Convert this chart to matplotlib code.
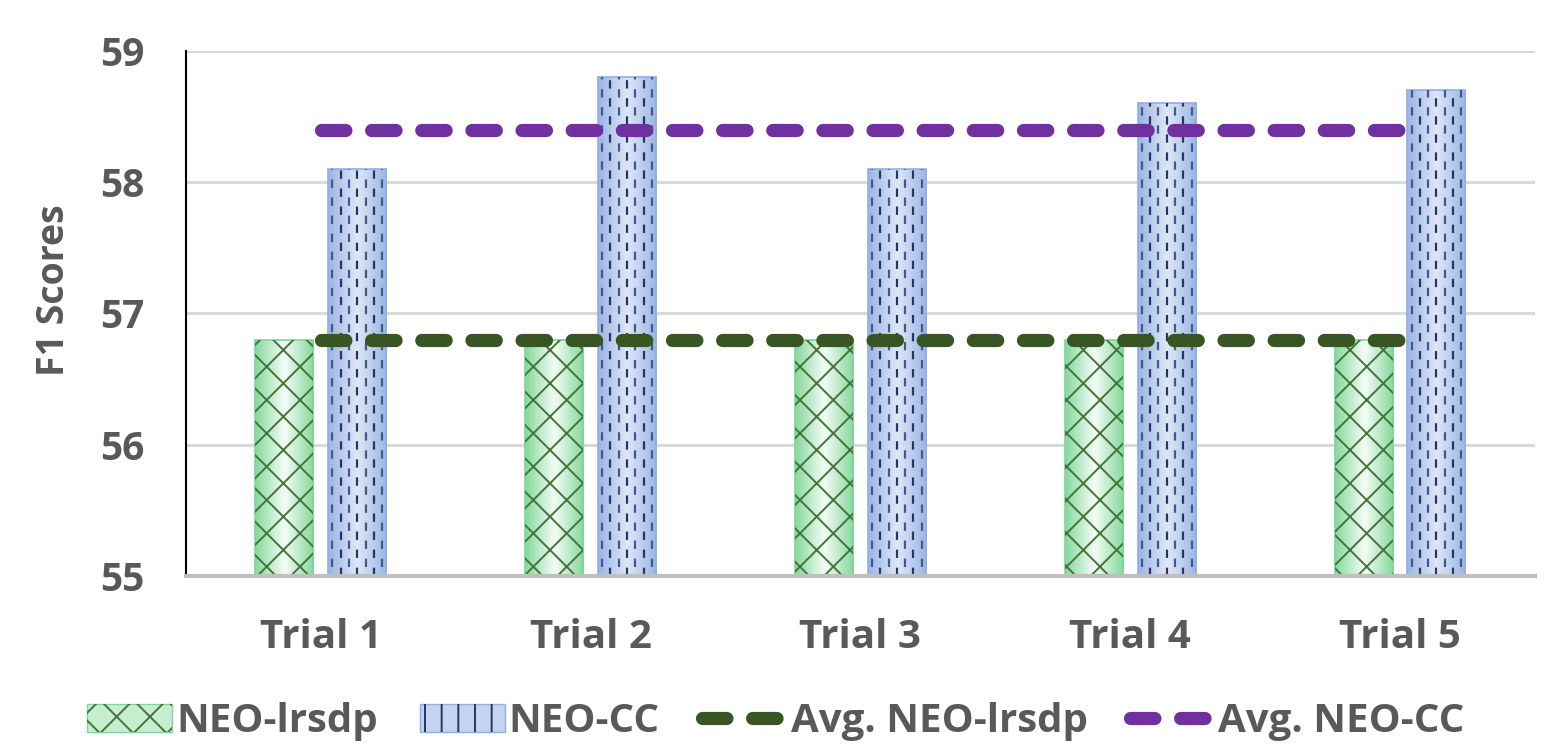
import matplotlib
matplotlib.use("Agg")
import matplotlib.pyplot as plt
import numpy as np
from matplotlib.patches import Patch
from matplotlib.lines import Line2D
from matplotlib.colors import LinearSegmentedColormap

trials = ["Trial 1", "Trial 2", "Trial 3", "Trial 4", "Trial 5"]
neo_lrsdp = [56.8, 56.8, 56.8, 56.8, 56.8]
neo_cc = [58.1, 58.8, 58.1, 58.6, 58.7]
avg_lrsdp = [56.8, 56.8, 56.8, 56.8, 56.8]
avg_cc = [58.4, 58.4, 58.4, 58.4, 58.4]

TXT = "#595959"
plt.rcParams["font.family"] = ["Open Sans", "DejaVu Sans"]
plt.rcParams["font.weight"] = "bold"
plt.rcParams["axes.labelweight"] = "bold"
plt.rcParams["hatch.linewidth"] = 1.4

fig = plt.figure(figsize=(15.52, 7.44), dpi=100)
ax = fig.add_axes([0.1198, 0.2258, 0.8692, 0.7057])
Y0, Y1 = 55, 59

x = np.arange(len(trials))
w = 0.215
off = 0.135

g_edge, g_hatch = "#7fd698", "#46733a"
b_edge, b_hatch = "#93aee0", "#1f3864"
g_cmap = LinearSegmentedColormap.from_list("g", ["#86d99d", "#f4fcf6", "#86d99d"])
b_cmap = LinearSegmentedColormap.from_list("b", ["#9bb5e4", "#dfe7f6", "#9bb5e4"])
grad = np.linspace(0, 1, 64).reshape(1, -1)


def gradient_bars(bars, cmap):
    for b in bars:
        x0, top = b.get_x(), b.get_y() + b.get_height()
        im = ax.imshow(grad, cmap=cmap, aspect="auto", zorder=2,
                       extent=[x0, x0 + b.get_width(), Y0, top])
        im.set_clip_path(b)


def dash_pattern(bars, color):
    # staggered short vertical dashes, like the Excel "dashed vertical" fill
    ncol = 7
    for b in bars:
        x0, bw, top = b.get_x(), b.get_width(), b.get_y() + b.get_height()
        for k in range(ncol):
            xc = x0 + bw * (k + 0.5) / ncol
            shade = color if k % 2 else "#3b5a94"
            ln = ax.vlines(xc, Y0, top, colors=shade, linewidth=1.6, zorder=2.2,
                           linestyles=[(0 if k % 2 else 6.5, (6.0, 7.0))])
            ln.set_clip_path(b)


gb = ax.bar(x - off, neo_lrsdp, w, color="none", edgecolor=g_edge, linewidth=1.2, zorder=2.1)
gradient_bars(gb, g_cmap)
ax.bar(x - off, neo_lrsdp, w, color="none", edgecolor=g_hatch, linewidth=0, hatch="x", zorder=2.2)
bb = ax.bar(x + off, neo_cc, w, color="none", edgecolor=b_edge, linewidth=1.2, zorder=2.1)
gradient_bars(bb, b_cmap)
plt.rcParams["lines.scale_dashes"] = False
dash_pattern(bb, b_hatch)
plt.rcParams["lines.scale_dashes"] = True

line_kw = dict(linewidth=9.5, solid_capstyle="round", dash_capstyle="round", dashes=(1.85, 1.95))
ax.plot(x, avg_lrsdp, color="#375623", zorder=3, **line_kw)
ax.plot(x, avg_cc, color="#7030a0", zorder=3, **line_kw)

ax.set_ylim(Y0, Y1)
ax.set_xlim(-0.5, 4.5)
ax.set_yticks([55, 56, 57, 58, 59])
ax.set_xticks(x)
ax.set_xticklabels(trials)
ax.tick_params(axis="both", length=0, labelcolor=TXT)
ax.tick_params(axis="y", pad=30, labelsize=28)
ax.tick_params(axis="x", pad=30, labelsize=29)
ax.set_ylabel("F1 Scores", fontsize=27, color=TXT)
ax.yaxis.set_label_coords(-0.084, 0.545)

ax.grid(axis="y", color="#d9d9d9", linewidth=2.2, zorder=0)
ax.set_axisbelow(True)
for s in ["top", "right"]:
    ax.spines[s].set_visible(False)
ax.spines["left"].set_color("#000000")
ax.spines["left"].set_linewidth(1.5)
ax.spines["bottom"].set_color("#bfbfbf")
ax.spines["bottom"].set_linewidth(3)

handles = [
    (Patch(facecolor="#c6efd1", edgecolor=g_edge), Patch(facecolor="none", edgecolor=g_hatch, linewidth=0, hatch="x")),
    (Patch(facecolor="#c3d3f0", edgecolor=b_edge), Patch(facecolor="none", edgecolor=b_hatch, linewidth=0, hatch="|")),
    Line2D([], [], color="#375623", **line_kw),
    Line2D([], [], color="#7030a0", **line_kw),
]
labels = ["NEO-lrsdp", "NEO-CC", "Avg. NEO-lrsdp", "Avg. NEO-CC"]
fig.legend(handles, labels, loc="lower center", bbox_to_anchor=(0.5, -0.045), ncol=4,
           frameon=False, fontsize=29, handlelength=2.1, handleheight=0.7,
           handletextpad=0.1, columnspacing=1.05, labelcolor=TXT)

fig.savefig("out.png", dpi=100)
